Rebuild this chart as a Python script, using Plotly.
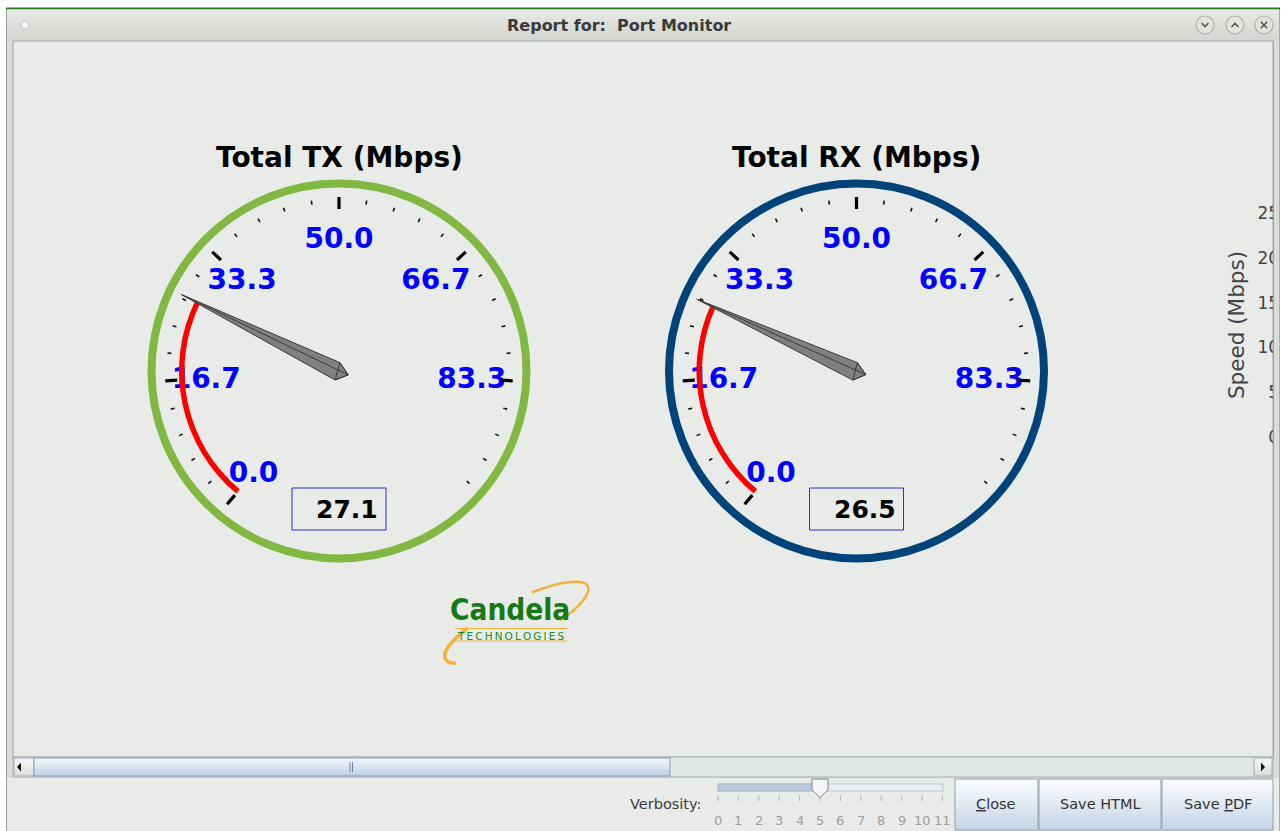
import numpy as np
import plotly.graph_objects as go

W, H = 1282, 831

# ---------------- data ----------------
gauge_titles = ["Total TX (Mbps)", "Total RX (Mbps)"]
gauge_values = [27.1, 26.5]
gauge_ring_colors = ["#80B841", "#00427A"]
dial_range = [0.0, 100.0]
major_tick_values = [0.0, 16.7, 33.3, 50.0, 66.7, 83.3]
major_tick_labels = ["0.0", "16.7", "33.3", "50.0", "66.7", "83.3"]
minor_tick_values = [3.3, 6.7, 10.0, 13.3, 20.0, 23.3, 26.7, 30.0, 36.7, 40.0, 43.3, 46.7,
                     53.3, 56.7, 60.0, 63.3, 70.0, 73.3, 76.7, 80.0, 86.7, 90.0, 93.3, 96.7]
side_axis_ticks = [0, 5, 10, 15, 20, 25]
side_axis_title = "Speed (Mbps)"
verbosity_levels = [0, 1, 2, 3, 4, 5, 6, 7, 8, 9, 10, 11]
verbosity_value = 5
button_labels = ["<u>C</u>lose", "Save HTML", "Save <u>P</u>DF"]
window_title = "Report for:\u00a0\u00a0Port Monitor"

# ---------------- layout constants ----------------
FONT = "DejaVu Sans"
DIAL_SWEEP = 280.0
DIAL_START = 230.0
DEG = DIAL_SWEEP / (dial_range[1] - dial_range[0])
gauge_centers = [(339.0, 371.0), (856.5, 371.0)]
R = 187.5
LABEL_DY = 2.5
BG = "#E8EBE7"

shapes = []
annotations = []


def px(x):
    return x / W


def py(y):
    return 1 - y / H


def rect(x0, y0, x1, y1, fill=None, line=None, lw=1, layer="below"):
    shapes.append(dict(type="rect", xref="paper", yref="paper",
                       x0=px(x0), x1=px(x1), y0=py(y0), y1=py(y1),
                       fillcolor=fill or "rgba(0,0,0,0)",
                       line=dict(color=line or "rgba(0,0,0,0)", width=lw if line else 0),
                       layer=layer))


def seg(x0, y0, x1, y1, color, lw=1, layer="below"):
    shapes.append(dict(type="line", xref="paper", yref="paper",
                       x0=px(x0), x1=px(x1), y0=py(y0), y1=py(y1),
                       line=dict(color=color, width=lw), layer=layer))


def path(points, fill=None, line=None, lw=1, closed=True, layer="below"):
    d = "M" + " L".join(f"{px(x):.5f},{py(y):.5f}" for x, y in points)
    if closed:
        d += " Z"
    shapes.append(dict(type="path", xref="paper", yref="paper", path=d,
                       fillcolor=fill or "rgba(0,0,0,0)",
                       line=dict(color=line or "rgba(0,0,0,0)", width=lw if line else 0),
                       layer=layer))


def circle(cx, cy, r, fill, line, lw=1, layer="below"):
    shapes.append(dict(type="circle", xref="paper", yref="paper",
                       x0=px(cx - r), x1=px(cx + r), y0=py(cy + r), y1=py(cy - r),
                       fillcolor=fill, line=dict(color=line, width=lw), layer=layer))


def hex2rgb(h):
    h = h.lstrip("#")
    return [int(h[i:i + 2], 16) for i in (0, 2, 4)]


def mix(c1, c2, t):
    a, b = hex2rgb(c1), hex2rgb(c2)
    return "#" + "".join(f"{int(round(a[i] + (b[i] - a[i]) * t)):02x}" for i in range(3))


def grad(x0, y0, x1, y1, ctop, cbot, n=10, line=None, layer="below"):
    h = (y1 - y0) / n
    for i in range(n):
        rect(x0, y0 + i * h, x1, y0 + (i + 1) * h + 0.5, fill=mix(ctop, cbot, i / (n - 1)), layer=layer)
    if line:
        rect(x0, y0, x1, y1, line=line, layer=layer)


def text(x, y, s, size, color, bold=False, xanchor="center", yanchor="middle", family=FONT, **kw):
    f = dict(family=family, size=size, color=color)
    if bold:
        f["weight"] = "bold"
    annotations.append(dict(x=px(x), y=py(y), xref="paper", yref="paper", text=s, showarrow=False,
                            xanchor=xanchor, yanchor=yanchor, font=f, **kw))


# ---------------- window chrome ----------------
rect(6, 8, 1280, 831, fill="#D9DCD7")
seg(6.5, 9, 6.5, 831, "#9A9E99", 1)
seg(1279.5, 9, 1279.5, 831, "#A9ADA8", 1)
rect(6, 7.5, 1280, 9.5, fill="#2E7A22")
grad(7, 9.5, 1279, 41, "#E6E8E4", "#D3D6D1", n=8)
circle(25, 25, 4, "#F6F6F6", "#C4C4C4", 1)
text(619, 25.5, window_title, 16, "#3A3A3A", bold=True)
for i, bx in enumerate([1205, 1235, 1264]):
    circle(bx, 25, 9, "#E2E4E0", "#AEB0AC", 1.2)
    if i == 0:
        path([(bx - 3.5, 23), (bx, 26.5), (bx + 3.5, 23)], line="#555555", lw=1.6, closed=False)
    elif i == 1:
        path([(bx - 3.5, 27), (bx, 23.5), (bx + 3.5, 27)], line="#555555", lw=1.6, closed=False)
    else:
        seg(bx - 3.2, 21.8, bx + 3.2, 28.2, "#555555", 1.6)
        seg(bx - 3.2, 28.2, bx + 3.2, 21.8, "#555555", 1.6)

# content panel
rect(13, 41, 1273, 757, fill=BG, line="#98A4B0", lw=1)

# horizontal scrollbar
rect(13, 757, 1273, 777, fill="#E4E8E4", line="#A6AEB6")
grad(14, 758, 34, 776, "#F6F8F6", "#DADFDA", n=6, line="#A6AEB6")
path([(21, 762.5), (17, 767), (21, 771.5)], fill="#111111")
grad(34, 758, 670, 776, "#F3F7FB", "#BFD0E3", n=10, line="#7E9BBE")
seg(350, 762, 350, 772, "#6F86A3", 1)
seg(352.5, 762, 352.5, 772, "#6F86A3", 1)
grad(1254, 758, 1272, 776, "#F6F8F6", "#DADFDA", n=6, line="#A6AEB6")
path([(1261, 762.5), (1265, 767), (1261, 771.5)], fill="#111111")

# bottom panel
rect(7, 778, 1279, 831, fill=BG)
text(703, 804, "Verbosity:", 14.5, "#3C3C3C", xanchor="right")

# slider
SL0, SLSTEP = 718.0, 20.4
rect(718, 784, 943, 791, fill="#E9EEF3", line="#BCC6D0")
thumb_x = SL0 + verbosity_value * SLSTEP
rect(718, 784, thumb_x, 791, fill="#B9C9DB", line="#A9B9CB")
for v in verbosity_levels:
    tx = SL0 + v * SLSTEP
    seg(tx, 795, tx, 801, "#B4B4B4", 1)
    text(tx, 820, str(v), 13, "#9E9E9E")
path([(thumb_x - 8, 779), (thumb_x + 8, 779), (thumb_x + 8, 790), (thumb_x, 797.5), (thumb_x - 8, 790)],
     fill="#F4F6F8", line="#7C8288", lw=1)

# buttons
btn_edges = [955, 1039, 1162, 1274]
for i, lab in enumerate(button_labels):
    x0, x1 = btn_edges[i], btn_edges[i + 1] - 1
    grad(x0, 779, x1, 830, "#FAFCFE", "#C6D6E6", n=12, line="#8D9DAD")
    text((x0 + x1) / 2, 804, lab, 14.5, "#333333")

# right edge: clip the neighbouring chart's axis labels
rect(1273.5, 41, 1282, 757, fill="#D9DCD7", layer="above")
seg(1273.5, 41, 1273.5, 757, "#98A4B0", 1, layer="above")
seg(1279.5, 41, 1279.5, 757, "#A9ADA8", 1, layer="above")
rect(1280, 41, 1282, 757, fill="#FFFFFF", layer="above")

# ---------------- logo ----------------
ecx, ecy, ea, eb, ephi = 516.5, 622.5, 80.0, 21.0, np.radians(27)


def ell(t):
    t = np.radians(t)
    ux, uy = np.cos(ephi), -np.sin(ephi)
    vx, vy = -np.sin(ephi), -np.cos(ephi)
    return [(ecx + ea * np.cos(a) * ux + eb * np.sin(a) * vx,
             ecy + ea * np.cos(a) * uy + eb * np.sin(a) * vy) for a in t]


path(ell(np.linspace(125, 205, 30)), line="#F2B13A", lw=3.5, closed=False)
path(ell(np.linspace(-60, 70, 40)), line="#F2B13A", lw=2.5, closed=False)
seg(455, 628.5, 567, 628.5, "#F2B13A", 1)
seg(455, 641, 567, 641, "#F2B13A", 1)
text(510, 610, "Candela", 29.5, "#157A15", bold=True,
     family="DejaVu Sans Condensed, DejaVu Sans")
text(511, 635.5, "\u2009".join("TECHNOLOGIES"), 10.5, "#1F8A1F")

# ---------------- gauges ----------------
fig = go.Figure()
layout_polars = {}
for gi in range(2):
    cx, cy = gauge_centers[gi]
    val = gauge_values[gi]
    dom = dict(x=[px(cx - R), px(cx + R)], y=[py(cy + R), py(cy - R)])
    dom_lab = dict(x=[px(cx - R), px(cx + R)], y=[py(cy + LABEL_DY + R), py(cy + LABEL_DY - R)])
    pa = "polar" if gi == 0 else f"polar{2 * gi + 1}"
    pb = f"polar{2 * gi + 2}"
    for name, ring, d in ((pa, False, dom_lab), (pb, True, dom)):
        layout_polars[name] = dict(
            domain=d, bgcolor="rgba(0,0,0,0)", hole=0,
            radialaxis=dict(visible=False, range=[0, R]),
            angularaxis=dict(rotation=DIAL_START, direction="clockwise", thetaunit="degrees",
                             showgrid=False, ticks="", showticklabels=False,
                             showline=ring, linecolor=gauge_ring_colors[gi], linewidth=8))
    # tick labels (below the pointer layers)
    fig.add_trace(go.Scatterpolar(
        subplot=pa, mode="text", r=[133] * len(major_tick_values),
        theta=[v * DEG for v in major_tick_values], text=major_tick_labels,
        textposition="middle center",
        textfont=dict(family=FONT, size=28, color="#0000FF", weight="bold"),
        hoverinfo="skip", showlegend=False))
    # ticks
    rr, tt = [], []
    for v in minor_tick_values:
        rr += [168.5, 172.5, None]
        tt += [v * DEG, v * DEG, None]
    fig.add_trace(go.Scatterpolar(subplot=pb, mode="lines", r=rr, theta=tt,
                                  line=dict(color="#111111", width=1.6), hoverinfo="skip", showlegend=False))
    rr, tt = [], []
    for v in major_tick_values:
        rr += [162, 174, None]
        tt += [v * DEG, v * DEG, None]
    fig.add_trace(go.Scatterpolar(subplot=pb, mode="lines", r=rr, theta=tt,
                                  line=dict(color="#000000", width=3.2), hoverinfo="skip", showlegend=False))
    # value arc
    fig.add_trace(go.Barpolar(subplot=pb, r=[5.5], base=[154.5], theta=[val * DEG / 2], width=[val * DEG],
                              marker=dict(color="#FF0000", line=dict(width=0)),
                              hoverinfo="skip", showlegend=False))
    # needle
    th = val * DEG
    tip = (175, th)
    A = (8.4, th + 71)
    B = (10.0, th + 177)
    C = (9.8, th - 92)
    fig.add_trace(go.Scatterpolar(subplot=pb, mode="lines", r=[tip[0], A[0], B[0], C[0], tip[0]],
                                  theta=[tip[1], A[1], B[1], C[1], tip[1]], fill="toself",
                                  fillcolor="#808080", line=dict(color="#3A3A3A", width=1),
                                  hoverinfo="skip", showlegend=False))
    fig.add_trace(go.Scatterpolar(subplot=pb, mode="lines",
                                  r=[tip[0], B[0], None, A[0], B[0], C[0], A[0]],
                                  theta=[tip[1], B[1], None, A[1], B[1], C[1], A[1]],
                                  line=dict(color="#3A3A3A", width=1),
                                  hoverinfo="skip", showlegend=False))
    # title and value box
    text(cx, 158, gauge_titles[gi], 28, "#000000", bold=True)
    rect(cx - 47, 488, cx + 47, 530, line="#2B2BE0", lw=1)
    text(cx + 41, 509, f"{val:.1f}", 25, "#000000", bold=True, xanchor="right")

# neighbouring chart's y axis (clipped at the panel edge)
fig.add_trace(go.Scatter(x=[], y=[], xaxis="x", yaxis="y", showlegend=False))

fig.update_layout(
    width=W, height=H, margin=dict(l=0, r=0, t=0, b=0),
    paper_bgcolor="#FFFFFF", plot_bgcolor="rgba(0,0,0,0)", showlegend=False,
    xaxis=dict(domain=[0.9985, 1.0], range=[0, 1], visible=False, anchor="y"),
    yaxis=dict(domain=[py(437), py(213)], range=[0, 25], anchor="x", side="left",
               tickvals=side_axis_ticks, ticks="", showgrid=False, zeroline=False, showline=False,
               tickfont=dict(family=FONT, size=17, color="#444444"),
               title=dict(text=side_axis_title, font=dict(family=FONT, size=21.5, color="#444444"), standoff=6),
               automargin=False),
    shapes=shapes, annotations=annotations,
    **layout_polars,
)

fig.write_html("out.html", config={"displayModeBar": False},
               post_script="document.body.style.margin='0';document.body.style.overflow='hidden';")
